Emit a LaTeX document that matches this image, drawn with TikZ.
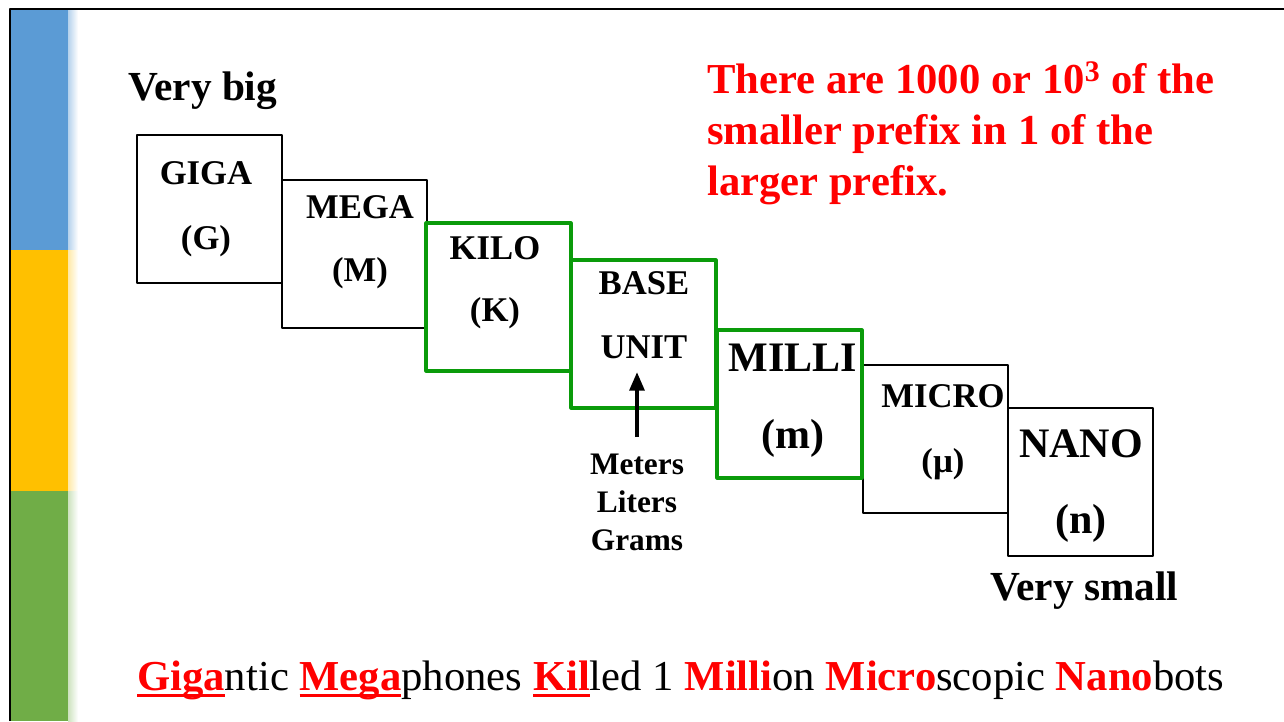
\documentclass[tikz,border=0pt]{standalone}
\usepackage{fontspec}
\setmainfont{Liberation Serif}
\usepackage{tikz}
\usetikzlibrary{arrows.meta, positioning}

\definecolor{barblue}{RGB}{91,155,213}
\definecolor{baryellow}{RGB}{255,192,0}
\definecolor{bargreen}{RGB}{112,173,71}
\definecolor{boxgreen}{RGB}{10,155,10}

% red underline under a word
\newcommand{\ulred}[1]{\setbox0\hbox{#1}\rlap{\rule[-5.5pt]{\wd0}{2.4pt}}\box0}

\begin{document}
\begin{tikzpicture}[x=0.75pt,y=-0.75pt,line cap=round,line join=round]
\useasboundingbox (0,0) rectangle (1284,721);

% Side bar
\fill[barblue] (11,10) rectangle (68,250);
\fill[baryellow] (11,250) rectangle (68,491);
\fill[bargreen] (11,491) rectangle (68,721);
\shade[left color=barblue!45, right color=white] (68,10) rectangle (78,250);
\shade[left color=baryellow!35, right color=white] (68,250) rectangle (78,491);
\shade[left color=bargreen!35, right color=white] (68,491) rectangle (78,721);

% Frame
\draw[line width=1.5pt, line cap=butt] (10,721) -- (10,9) -- (1284,9);

% Prefix boxes
\foreach \name/\x/\y/\col/\lw in {
  giga/137/135/black/1.3pt,
  mega/282/180/black/1.3pt,
  micro/863/365/black/1.3pt,
  nano/1008/408/black/1.3pt,
  kilo/426/223/boxgreen/2.4pt,
  base/571/260/boxgreen/2.4pt,
  milli/717/330/boxgreen/2.4pt
} {
  \node[draw=\col, line width=\lw, minimum width=108.75pt, minimum height=111pt,
        inner sep=0pt, outer sep=0pt, anchor=north west] (\name) at (\x,\y) {};
}

% Prefix names
\foreach \name/\x/\ya/\yb/\ta/\tb/\fs in {
  giga/206/173/241/GIGA/(G)/26,
  mega/360/207/273/MEGA/(M)/26,
  kilo/495/248/313/KILO/(K)/26,
  base/644/283/347/BASE/UNIT/26,
  milli/793/358/438/MILLI/(m)/31.5,
  micro/943/396/464/MICRO/(µ)/26,
  nano/1081/444/523/NANO/(n)/31.5
} {
  \node[font=\fontsize{\fs}{\fs}\selectfont\bfseries, inner sep=0pt] (\name-a) at (\x,\ya) {\ta};
  \node[font=\fontsize{\fs}{\fs}\selectfont\bfseries, inner sep=0pt] (\name-b) at (\x,\yb) {\tb};
}

% Ends of the scale
\node[font=\fontsize{31}{31}\selectfont\bfseries, anchor=base west, inner sep=0pt] (big) at (128,100) {Very big};
\node[font=\fontsize{31}{31}\selectfont\bfseries, anchor=base west, inner sep=0pt] (small) at (990,600) {Very small};

% Base units
\foreach \i/\y/\word in {1/474/Meters, 2/512/Liters, 3/550/Grams} {
  \node[font=\fontsize{23.5}{23.5}\selectfont\bfseries, anchor=base, inner sep=0pt] (u\i) at (637,\y) {\word};
}
\coordinate (tail) at (637,437);
\coordinate (tip) at (637,372);
\draw[-{Triangle[length=14pt, width=11pt]}, line width=3pt, line cap=butt] (tail) -- (tip);

% Rule
\node[font=\fontsize{32}{38.25}\selectfont\bfseries, text=red, anchor=north west, align=left,
      inner sep=0pt] (rule) at (707,61)
  {There are 1000 or 10\textsuperscript{3} of the\\smaller prefix in 1 of the\\larger prefix.};

% Memory line
\node[font=\fontsize{32}{32}\selectfont, anchor=base west, inner sep=0pt] (mnemonic) at (137,690)
  {{\color{red}\bfseries\ulred{Giga}}ntic {\color{red}\bfseries\ulred{Mega}}phones
   {\color{red}\bfseries\ulred{Kil}}led 1 {\color{red}\bfseries Milli}on
   {\color{red}\bfseries Micro}scopic {\color{red}\bfseries Nano}bots};

\end{tikzpicture}
\end{document}
